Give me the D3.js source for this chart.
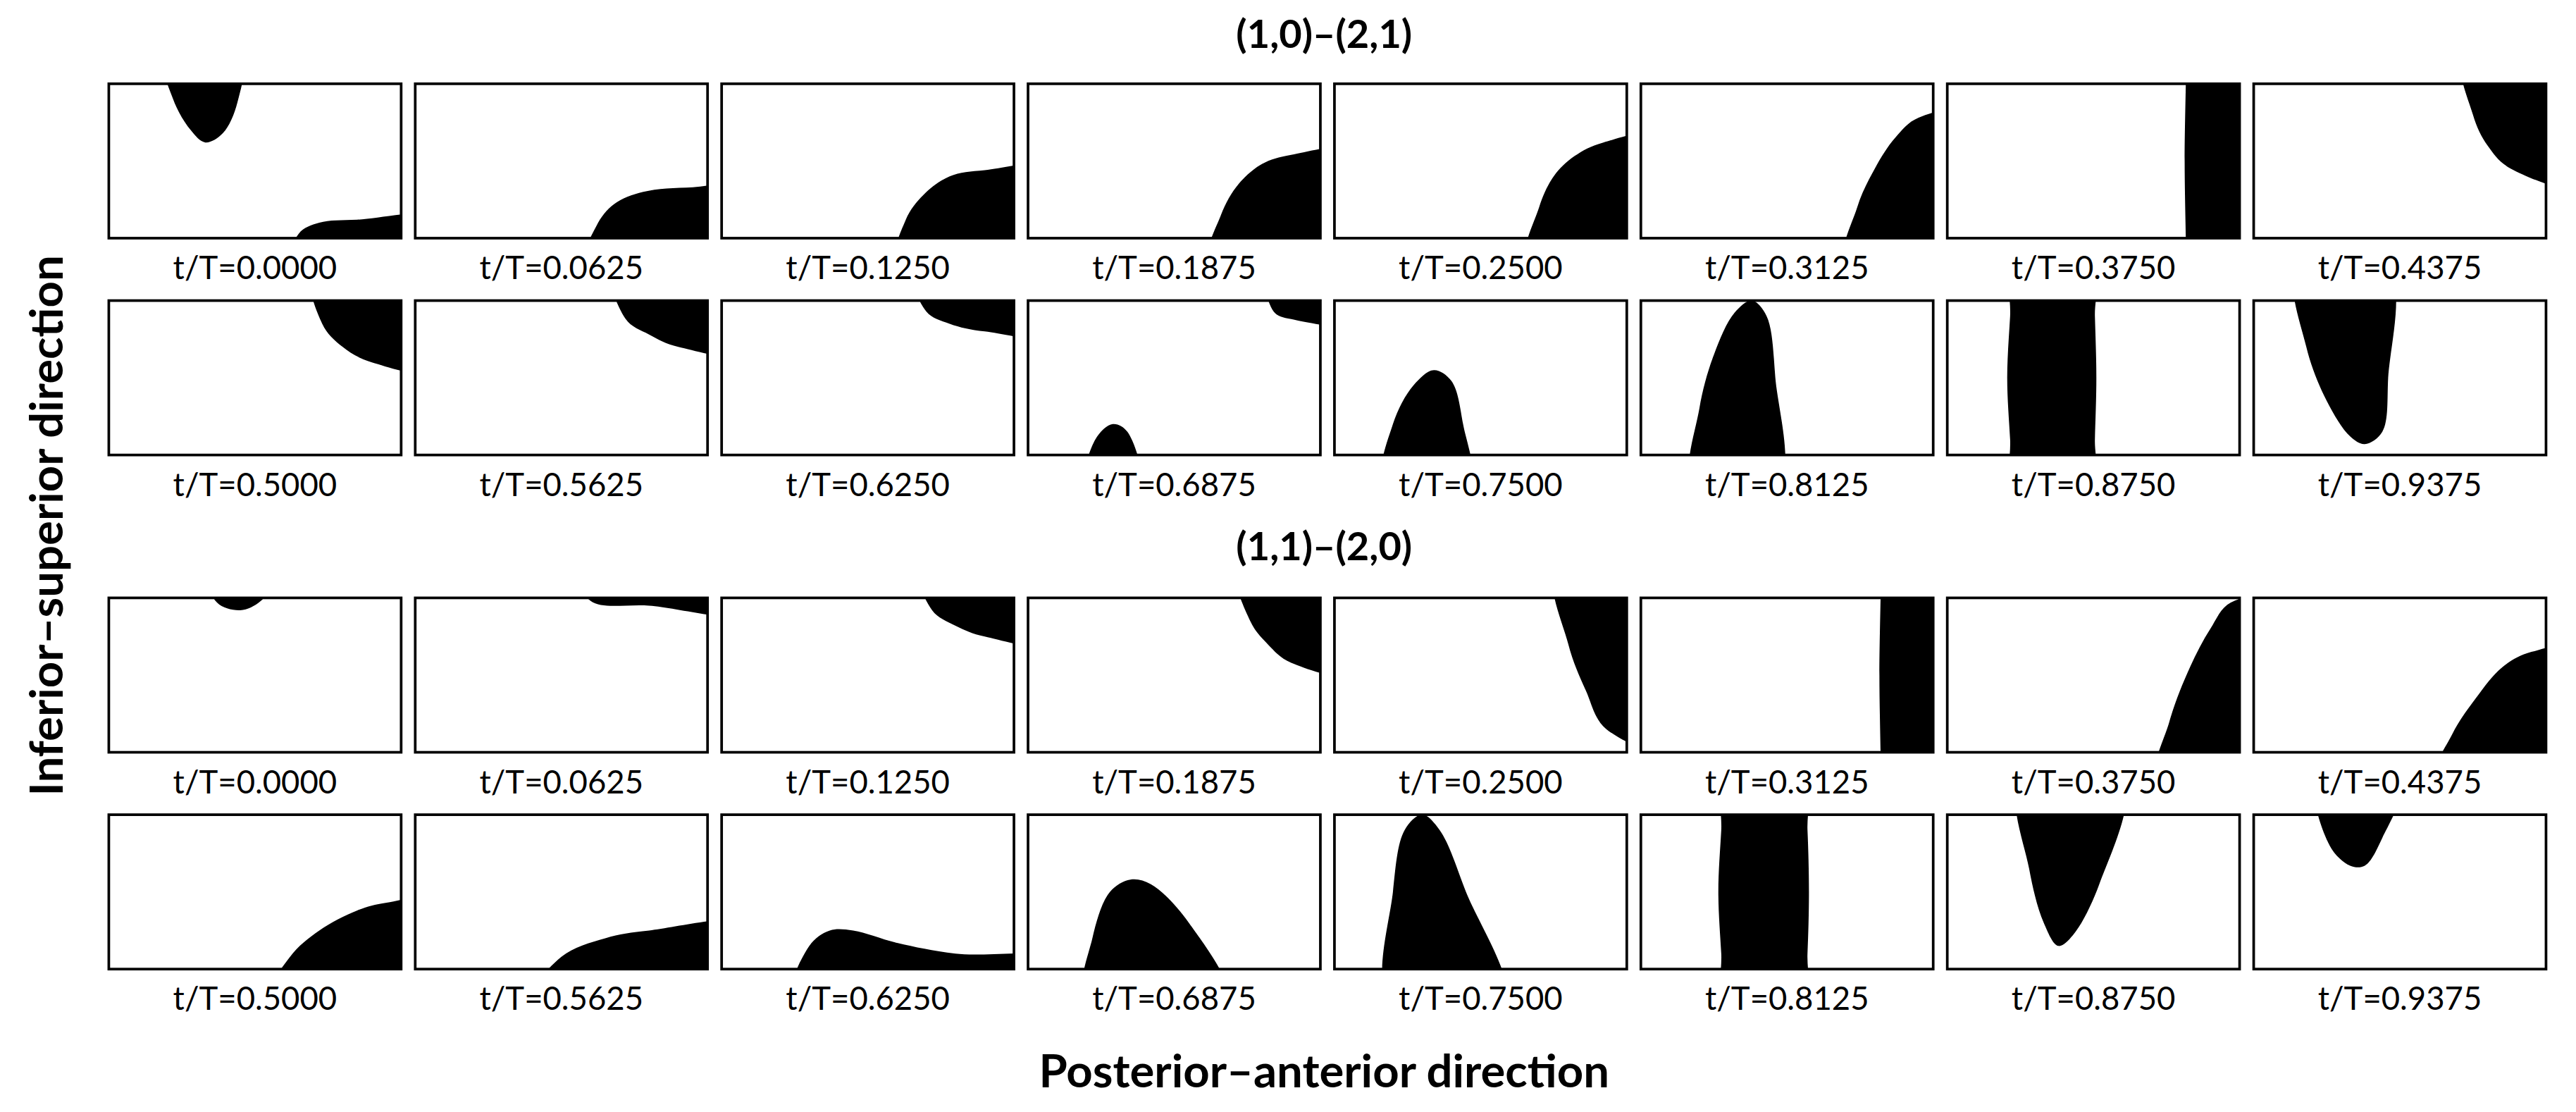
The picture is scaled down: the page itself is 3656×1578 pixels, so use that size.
<!DOCTYPE html>
<html><head><meta charset="utf-8">
<script src="https://cdn.jsdelivr.net/npm/d3@7"></script>
<style>body{margin:0;background:#fff}svg{display:block}</style>
</head><body>
<script>
// ---- data ----
const groupTitles = ["(1,0)\u2013(2,1)", "(1,1)\u2013(2,0)"];
const timeLabels = ["0.0000","0.0625","0.1250","0.1875","0.2500","0.3125","0.3750","0.4375",
                    "0.5000","0.5625","0.6250","0.6875","0.7500","0.8125","0.8750","0.9375"];
const yAxisLabel = "Inferior\u2013superior direction";
const xAxisLabel = "Posterior\u2013anterior direction";
// black region outlines per panel, in unit panel coords [u (left→right), v (top→bottom)]
const shapesA = [
 [[[0.19,-0.2],[0.22,0.1],[0.28,0.3],[0.33,0.38],[0.39,0.32],[0.44,0.12],[0.45,-0.2]],
  [[0.62,1.2],[0.65,0.97],[0.72,0.9],[0.85,0.88],[1.2,0.87],[1.2,1.2]]],
 [[[0.58,1.2],[0.62,0.92],[0.68,0.78],[0.78,0.7],[0.95,0.67],[1.2,0.67],[1.2,1.2]]],
 [[[0.6,1.2],[0.63,0.88],[0.69,0.72],[0.78,0.6],[0.9,0.56],[1.2,0.55],[1.2,1.2]]],
 [[[0.62,1.2],[0.66,0.85],[0.72,0.65],[0.8,0.52],[0.9,0.46],[1.2,0.44],[1.2,1.2]]],
 [[[0.66,1.2],[0.7,0.8],[0.75,0.6],[0.82,0.47],[0.92,0.38],[1.2,0.33],[1.2,1.2]]],
 [[[0.7,1.2],[0.74,0.8],[0.8,0.55],[0.87,0.35],[0.95,0.22],[1.2,0.18],[1.2,1.2]]],
 [[[0.818,-0.2],[0.816,0.0],[0.812,0.5],[0.816,1.0],[0.818,1.2],[1.0,1.2],[1.2,1.2],[1.2,0.5],[1.2,-0.2],[1.0,-0.2]]],
 [[[0.72,-0.2],[0.75,0.2],[0.8,0.4],[0.88,0.55],[1.2,0.68],[1.2,-0.2]]],
 [[[0.7,-0.2],[0.73,0.15],[0.8,0.3],[0.9,0.4],[1.2,0.46],[1.2,-0.2]]],
 [[[0.68,-0.2],[0.72,0.12],[0.8,0.22],[0.9,0.3],[1.2,0.34],[1.2,-0.2]]],
 [[[0.66,-0.2],[0.7,0.07],[0.78,0.15],[0.9,0.2],[1.2,0.22],[1.2,-0.2]]],
 [[[0.82,-0.2],[0.84,0.07],[0.9,0.12],[1.2,0.14],[1.2,-0.2]],
  [[0.2,1.2],[0.23,0.9],[0.29,0.8],[0.34,0.85],[0.38,1.2]]],
 [[[0.17,1.2],[0.2,0.8],[0.27,0.55],[0.34,0.45],[0.4,0.52],[0.44,0.8],[0.46,1.2]]],
 [[[0.18,1.2],[0.2,0.7],[0.25,0.35],[0.32,0.08],[0.38,0.0],[0.43,0.1],[0.46,0.5],[0.47,1.2]]],
 [[[0.225,-0.2],[0.215,0.1],[0.205,0.5],[0.215,0.9],[0.225,1.2],[0.36,1.25],[0.5,1.2],[0.505,0.9],[0.51,0.5],[0.505,0.1],[0.5,-0.2],[0.36,-0.25]]],
 [[[0.15,-0.2],[0.18,0.3],[0.25,0.65],[0.33,0.88],[0.38,0.93],[0.44,0.85],[0.46,0.5],[0.46,-0.2]]]
];
const shapesB = [
 [[[0.33,-0.2],[0.37,0.03],[0.45,0.08],[0.52,0.02],[0.6,-0.2]]],
 [[[0.55,-0.2],[0.6,0.02],[0.8,0.05],[1.2,0.1],[1.2,-0.2]]],
 [[[0.68,-0.2],[0.72,0.08],[0.8,0.18],[0.9,0.25],[1.2,0.3],[1.2,-0.2]]],
 [[[0.72,-0.2],[0.76,0.15],[0.82,0.3],[0.9,0.42],[1.2,0.5],[1.2,-0.2]]],
 [[[0.76,-0.2],[0.8,0.3],[0.86,0.6],[0.93,0.85],[1.2,1.0],[1.2,-0.2]]],
 [[[0.822,-0.2],[0.82,0.0],[0.816,0.5],[0.82,1.0],[0.822,1.2],[1.0,1.2],[1.2,1.2],[1.2,0.5],[1.2,-0.2],[1.0,-0.2]]],
 [[[0.72,1.2],[0.76,0.8],[0.83,0.45],[0.9,0.2],[0.97,0.03],[1.2,0.0],[1.2,1.2]]],
 [[[0.62,1.2],[0.68,0.88],[0.76,0.65],[0.85,0.45],[0.95,0.35],[1.2,0.32],[1.2,1.2]]],
 [[[0.55,1.2],[0.62,0.92],[0.72,0.75],[0.85,0.62],[0.95,0.57],[1.2,0.55],[1.2,1.2]]],
 [[[0.4,1.2],[0.5,0.92],[0.65,0.8],[0.8,0.75],[1.2,0.72],[1.2,1.2]]],
 [[[0.25,1.2],[0.3,0.85],[0.37,0.75],[0.45,0.75],[0.6,0.83],[0.8,0.9],[1.2,0.95],[1.2,1.2]]],
 [[[0.2,1.2],[0.22,0.8],[0.28,0.5],[0.35,0.42],[0.42,0.45],[0.55,0.7],[0.68,1.2]]],
 [[[0.19,1.2],[0.2,0.5],[0.24,0.1],[0.3,0.0],[0.36,0.1],[0.45,0.5],[0.58,1.2]]],
 [[[0.285,-0.2],[0.275,0.1],[0.265,0.5],[0.275,0.9],[0.285,1.2],[0.42,1.25],[0.56,1.2],[0.57,0.9],[0.575,0.5],[0.57,0.1],[0.56,-0.2],[0.42,-0.25]]],
 [[[0.25,-0.2],[0.28,0.35],[0.33,0.7],[0.38,0.85],[0.43,0.78],[0.52,0.45],[0.6,-0.2]]],
 [[[0.22,-0.2],[0.26,0.2],[0.33,0.33],[0.38,0.33],[0.44,0.15],[0.5,-0.2]]]
];

// ---- layout (design space 1568x677, scaled to 3656x1578) ----
const W=3656,H=1578;
const svg=d3.select("body").append("svg").attr("width",W).attr("height",H)
  .attr("viewBox","0 0 1568 677").style("font-family","Lato, 'Open Sans', sans-serif");
const colX=d3.scaleLinear().domain([0,7]).range([66,1372]);
const rowY=[51,183,364,496];
const pw=178,ph=94;
const u=d3.scaleLinear().domain([0,1]).range([0,pw]);
const v=d3.scaleLinear().domain([0,1]).range([0,ph]);
const line=d3.line().x(d=>u(d[0])).y(d=>v(d[1])).curve(d3.curveCatmullRomClosed.alpha(0.5));
const defs=svg.append("defs");
defs.append("clipPath").attr("id","pc").append("rect").attr("width",pw).attr("height",ph);

[shapesA,shapesB].forEach((shapes,g)=>{
  svg.append("text").attr("x",806).attr("y",g?341:29).attr("text-anchor","middle")
    .attr("font-weight","bold").attr("font-size",24).text(groupTitles[g]);
  shapes.forEach((polys,i)=>{
    const r=g*2+Math.floor(i/8), c=i%8;
    const p=svg.append("g").attr("transform",`translate(${colX(c)},${rowY[r]})`);
    p.append("g").attr("clip-path","url(#pc)").selectAll("path").data(polys).join("path")
      .attr("d",line).attr("fill","#000");
    p.append("rect").attr("width",pw).attr("height",ph).attr("fill","none")
      .attr("stroke","#000").attr("stroke-width",1.6);
    p.append("text").attr("x",pw/2).attr("y",ph+25).attr("text-anchor","middle")
      .attr("font-size",19.5).text("t/T="+timeLabels[i]);
  });
});
svg.append("text").attr("transform","translate(38,320) rotate(-90)").attr("text-anchor","middle")
  .attr("font-weight","bold").attr("font-size",28).text(yAxisLabel);
svg.append("text").attr("x",806).attr("y",662).attr("text-anchor","middle")
  .attr("font-weight","bold").attr("font-size",28).text(xAxisLabel);
</script>
</body></html>
